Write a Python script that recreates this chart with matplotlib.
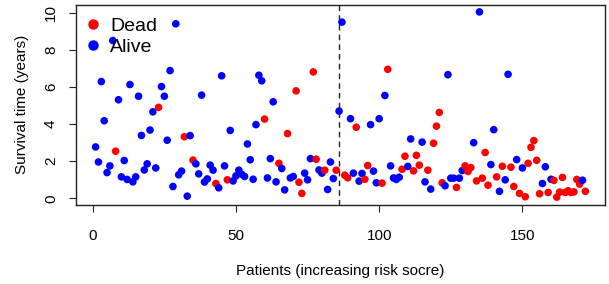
import numpy as np
import matplotlib.pyplot as plt
from matplotlib.lines import Line2D

plt.rcParams['font.family'] = ['Liberation Sans', 'DejaVu Sans']

# survival time (years), patients sorted by increasing risk score
survival = [2.77, 1.96, 6.29, 4.18, 1.39, 1.75, 8.50, 2.54, 5.31, 1.16,
            2.04, 1.02, 6.13, 0.89, 1.16, 5.50, 3.39, 1.53, 1.86, 3.68,
            4.66, 1.64, 4.90, 6.02, 5.50, 3.13, 6.88, 0.64, 9.40, 1.27,
            1.47, 3.32, 0.12, 3.38, 2.06, 1.86, 1.32, 5.56, 0.88, 1.05,
            1.79, 1.52, 0.80, 0.57, 6.60, 1.75, 1.00, 3.66, 0.94, 1.21,
            1.52, 1.30, 1.18, 2.93, 2.08, 1.03, 3.97, 6.63, 6.33, 4.27,
            1.10, 2.14, 5.20, 0.89, 1.89, 1.61, 0.46, 3.49, 1.10, 1.18,
            5.79, 0.87, 0.27, 1.36, 1.00, 2.14, 6.81, 2.11, 1.53, 1.36,
            1.52, 0.48, 1.96, 1.07, 1.52, 4.70, 9.49, 1.25, 1.11, 4.29,
            1.36, 3.83, 0.93, 1.34, 1.03, 1.77, 3.97, 1.47, 0.84, 4.29,
            0.82, 5.54, 6.95, 1.75, 1.10, 1.02, 1.14, 1.57, 2.27, 1.72,
            3.20, 1.48, 2.32, 1.79, 3.03, 0.89, 1.52, 0.50, 2.97, 3.89,
            4.63, 0.84, 0.68, 6.66, 1.09, 1.09, 0.59, 1.09, 1.50, 1.75,
            1.45, 1.66, 3.00, 0.94, 10.04, 1.09, 2.47, 0.71, 1.82, 3.70,
            1.16, 0.38, 1.73, 1.00, 6.68, 1.68, 0.64, 2.09, 0.27, 1.64,
            0.09, 1.89, 2.75, 3.11, 2.05, 0.25, 0.80, 1.70, 0.32, 1.03,
            0.97, 0.07, 0.34, 1.13, 0.32, 0.41, 0.32, 0.35, 1.02, 0.77,
            0.98, 0.38]

# 1 = dead, 0 = alive
dead = [0, 0, 0, 0, 0, 0, 0, 1, 0, 0,
        0, 0, 0, 0, 0, 0, 0, 0, 0, 0,
        0, 0, 1, 0, 0, 0, 0, 0, 0, 0,
        0, 1, 0, 0, 1, 0, 0, 0, 0, 0,
        0, 0, 1, 0, 0, 0, 1, 0, 0, 0,
        0, 0, 0, 0, 0, 0, 0, 0, 0, 1,
        0, 0, 0, 0, 1, 0, 0, 1, 0, 0,
        1, 1, 1, 0, 0, 0, 1, 1, 0, 0,
        1, 0, 0, 0, 1, 0, 0, 1, 1, 0,
        0, 1, 0, 0, 1, 1, 0, 0, 0, 0,
        1, 0, 1, 0, 0, 0, 0, 1, 1, 0,
        0, 1, 1, 1, 0, 0, 1, 0, 1, 1,
        1, 1, 0, 0, 0, 0, 1, 0, 0, 1,
        1, 1, 0, 1, 0, 1, 1, 1, 0, 0,
        1, 0, 1, 0, 0, 1, 1, 0, 1, 0,
        1, 1, 1, 1, 1, 1, 0, 0, 1, 0,
        1, 1, 1, 1, 1, 1, 1, 1, 1, 1,
        0, 1]

cutoff = 86
xticks = [0, 50, 100, 150]
yticks = [0, 2, 4, 6, 8, 10]

y = np.array(survival)
x = np.arange(1, len(y) + 1)
cols = ['red' if d else 'blue' for d in dead]

W, H = 609, 284
fig = plt.figure(figsize=(W / 100, H / 100), dpi=100)
ax = fig.add_axes([76 / W, 1 - 204.5 / H, (605 - 76) / W, 200 / H])

ax.scatter(x, y, c=cols, s=30, linewidths=0, zorder=3)
ax.axvline(cutoff, color='#222222', lw=1, ls=(0, (4, 3)), zorder=2)

# R style 4% padding
xr = x.max() - x.min()
yr = y.max() - y.min()
ax.set_xlim(x.min() - 0.04 * xr, x.max() + 0.04 * xr)
ax.set_ylim(y.min() - 0.04 * yr, y.max() + 0.04 * yr)

ax.set_xticks(xticks)
ax.set_yticks(yticks)
ax.set_yticklabels([str(t) for t in yticks], rotation=90, va='center')
ax.tick_params(axis='both', direction='out', length=5, width=0.8,
               labelsize=11, color='#222222')
ax.tick_params(axis='x', pad=13)
ax.tick_params(axis='y', pad=8)
for s in ax.spines.values():
    s.set_color('#222222')
    s.set_linewidth(1)

ax.set_xlabel('Patients (increasing risk socre)', fontsize=11, labelpad=15)
ax.set_ylabel('Survival time (years)', fontsize=11, labelpad=11)

handles = [Line2D([], [], marker='o', ls='', color='red', markersize=6.5),
           Line2D([], [], marker='o', ls='', color='blue', markersize=6.5)]
ax.legend(handles, ['Dead', 'Alive'], loc='upper left', frameon=False,
          fontsize=14, handletextpad=0.4, labelspacing=0.18,
          borderaxespad=0, borderpad=0, handlelength=1.0,
          bbox_to_anchor=(0.013, 0.935))

fig.savefig('out.png', dpi=100)
